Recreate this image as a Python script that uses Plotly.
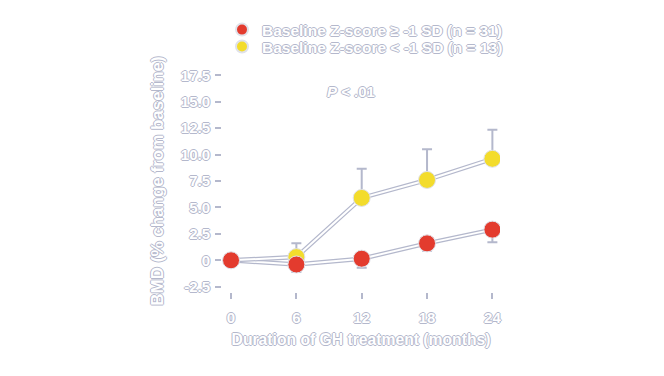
import plotly.graph_objects as go

months = [0, 6, 12, 18, 24]
tick_vals = [-2.5, 0, 2.5, 5.0, 7.5, 10.0, 12.5, 15.0, 17.5]
tick_text = ["-2.5", "0", "2.5", "5.0", "7.5", "10.0", "12.5", "15.0", "17.5"]

normal_name = "Baseline Z-score \u2265 -1 SD (n = 31)"
normal_vals = [0.0, -0.4, 0.15, 1.6, 2.9]
normal_err_minus = [0.0, 0.7, 0.85, 0.7, 1.2]

low_name = "Baseline Z-score < -1 SD (n = 13)"
low_months = [6, 12, 18, 24]
low_vals = [0.3, 5.9, 7.6, 9.6]
low_err_plus = [1.3, 2.75, 2.9, 2.75]

OUT = "#b4b8cc"
shadow = f"-1px 0 {OUT}, 1px 0 {OUT}, 0 -1px {OUT}, 0 1px {OUT}"
font = dict(family="Liberation Sans, Arial, sans-serif", size=15, color="white",
            shadow=shadow, weight="bold")

fig = go.Figure()

low_x = [0] + low_months
low_y = [0.0] + low_vals
for xs, ys in [(months, normal_vals), (low_x, low_y)]:
    fig.add_trace(go.Scatter(x=xs, y=ys, mode="lines", showlegend=False,
                             line=dict(color=OUT, width=4.5), hoverinfo="skip"))
    fig.add_trace(go.Scatter(x=xs, y=ys, mode="lines", showlegend=False,
                             line=dict(color="white", width=2), hoverinfo="skip"))

fig.add_trace(go.Scatter(
    x=low_months, y=low_vals, mode="markers", name=low_name,
    marker=dict(color="#f3dc2c", size=17, line=dict(color="#e0e2ea", width=1)),
    error_y=dict(type="data", symmetric=False, array=low_err_plus,
                 arrayminus=[0] * len(low_vals), color=OUT, thickness=2, width=5),
    legend="legend2",
))
fig.add_trace(go.Scatter(
    x=months, y=normal_vals, mode="markers", name=normal_name,
    marker=dict(color="#e33b2e", size=17, line=dict(color="#e0e2ea", width=1)),
    error_y=dict(type="data", symmetric=False, array=[0] * len(normal_vals),
                 arrayminus=normal_err_minus, color=OUT, thickness=2, width=5),
    legend="legend",
))

fig.add_annotation(text="<i>P</i> < .01", x=11.0, y=16.0, xref="x", yref="y",
                   showarrow=False, font=font, xanchor="center")

leg_common = dict(x=0.0, xanchor="left", yanchor="middle",
                  bgcolor="rgba(0,0,0,0)", font=dict(size=15.5),
                  itemsizing="constant")

fig.update_layout(
    width=664, height=376,
    margin=dict(l=222, r=164, t=70, b=84),
    paper_bgcolor="white", plot_bgcolor="white",
    font=font,
    showlegend=True,
    legend=dict(y=1.180, **leg_common),
    legend2=dict(y=1.104, **leg_common),
    xaxis=dict(range=[-0.83, 24.7], tickvals=months, ticktext=[str(m) for m in months],
               showgrid=False, zeroline=False, showline=False,
               ticks="outside", ticklen=6, tickcolor=OUT, tickwidth=2,
               ticklabelstandoff=6,
               title=dict(text="Duration of GH treatment (months)", standoff=9,
                          font=dict(size=15.7))),
    yaxis=dict(range=[-3.0, 18.0], tickvals=tick_vals, ticktext=tick_text,
               showgrid=False, zeroline=False, showline=False,
               ticks="outside", ticklen=6, tickcolor=OUT, tickwidth=2,
               ticklabelstandoff=2,
               title=dict(text="BMD (% change from baseline)", standoff=12,
                          font=dict(size=17))),
)

fig.write_html("out.html")
